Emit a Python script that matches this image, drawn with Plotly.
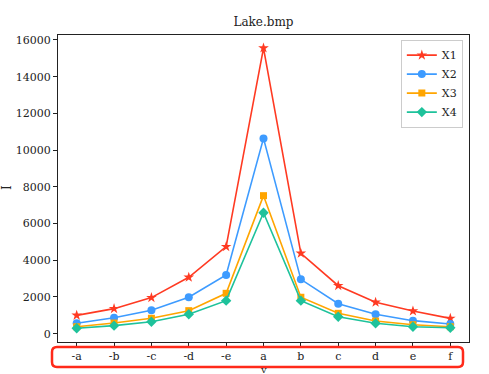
import plotly.graph_objects as go

categories = ["-a", "-b", "-c", "-d", "-e", "a", "b", "c", "d", "e", "f"]
x1 = [1000, 1365, 1965, 3075, 4740, 15560, 4380, 2615, 1710, 1235, 835]
x2 = [565, 870, 1275, 1985, 3200, 10640, 2960, 1635, 1055, 710, 530]
x3 = [380, 580, 840, 1255, 2200, 7520, 1985, 1110, 690, 490, 380]
x4 = [295, 440, 655, 1060, 1800, 6590, 1800, 925, 565, 380, 325]
series_names = ["X1", "X2", "X3", "X4"]
colors = ["#ff3a22", "#3d9bff", "#ffa500", "#1ec29b"]
symbols = ["star", "circle", "square", "diamond"]
y_ticks = [0, 2000, 4000, 6000, 8000, 10000, 12000, 14000, 16000]

W, H = 489, 374
L, R, T, B = 58, 469, 35, 342
font = "DejaVu Serif"

fig = go.Figure()
idx = list(range(len(categories)))
for name, vals, c, s in zip(series_names, [x1, x2, x3, x4], colors, symbols):
    fig.add_trace(go.Scatter(
        x=idx, y=vals, name=name, mode="lines+markers",
        line=dict(color=c, width=1.6),
        marker=dict(symbol=s, size=8 if s != "square" else 7, color=c),
    ))

def px_x(p):
    return (p - L) / (R - L)

def px_y(p):
    return (B - p) / (B - T)

# red rounded box around x tick labels
x0, x1p, y0, y1p, r = 52, 463, 347, 367, 5
path = (f"M {px_x(x0 + r)},{px_y(y0)} L {px_x(x1p - r)},{px_y(y0)} "
        f"Q {px_x(x1p)},{px_y(y0)} {px_x(x1p)},{px_y(y0 + r)} "
        f"L {px_x(x1p)},{px_y(y1p - r)} Q {px_x(x1p)},{px_y(y1p)} {px_x(x1p - r)},{px_y(y1p)} "
        f"L {px_x(x0 + r)},{px_y(y1p)} Q {px_x(x0)},{px_y(y1p)} {px_x(x0)},{px_y(y1p - r)} "
        f"L {px_x(x0)},{px_y(y0 + r)} Q {px_x(x0)},{px_y(y0)} {px_x(x0 + r)},{px_y(y0)} Z")

fig.update_layout(
    width=W, height=H,
    margin=dict(l=L, r=W - R, t=T, b=H - B, autoexpand=False),
    paper_bgcolor="white", plot_bgcolor="white",
    font=dict(family=font, size=11, color="#222"),
    title=dict(text="Lake.bmp", x=(L + R) / 2 / W, xanchor="center",
               y=1 - 22 / H, yanchor="middle", font=dict(size=12, family=font)),
    xaxis=dict(range=[-0.5, 10.5], tickmode="array", tickvals=idx, ticktext=categories,
               showgrid=False, zeroline=False, showline=True, linecolor="#222", linewidth=1,
               mirror=True, ticks="outside", ticklen=4, tickcolor="#222",
               tickfont=dict(size=11, family=font)),
    yaxis=dict(range=[-452, 16272], tickvals=y_ticks, tickformat="d",
               showgrid=False, zeroline=False, showline=True, linecolor="#222", linewidth=1,
               mirror=True, ticks="outside", ticklen=4, tickcolor="#222",
               tickfont=dict(size=11, family=font)),
    legend=dict(x=0.985, xanchor="right", y=0.985, yanchor="top",
                bgcolor="white", bordercolor="#cccccc", borderwidth=1,
                font=dict(size=11, family=font), itemwidth=30, tracegroupgap=0),
    showlegend=True,
    shapes=[dict(type="path", xref="paper", yref="paper", path=path,
                 line=dict(color="#ff2a1a", width=2.5), fillcolor="rgba(0,0,0,0)")],
    annotations=[
        dict(text="I", xref="paper", yref="paper", x=px_x(7), y=px_y(188),
             textangle=-90, showarrow=False, font=dict(size=12, family=font),
             xanchor="center", yanchor="middle"),
        dict(text="v", xref="paper", yref="paper", x=px_x(263), y=px_y(362.5),
             showarrow=False, font=dict(size=10, family=font), borderpad=0,
             xanchor="center", yanchor="top"),
    ],
)

fig.write_html("out.html", config={"displayModeBar": False},
               post_script="document.body.style.margin='0';")
